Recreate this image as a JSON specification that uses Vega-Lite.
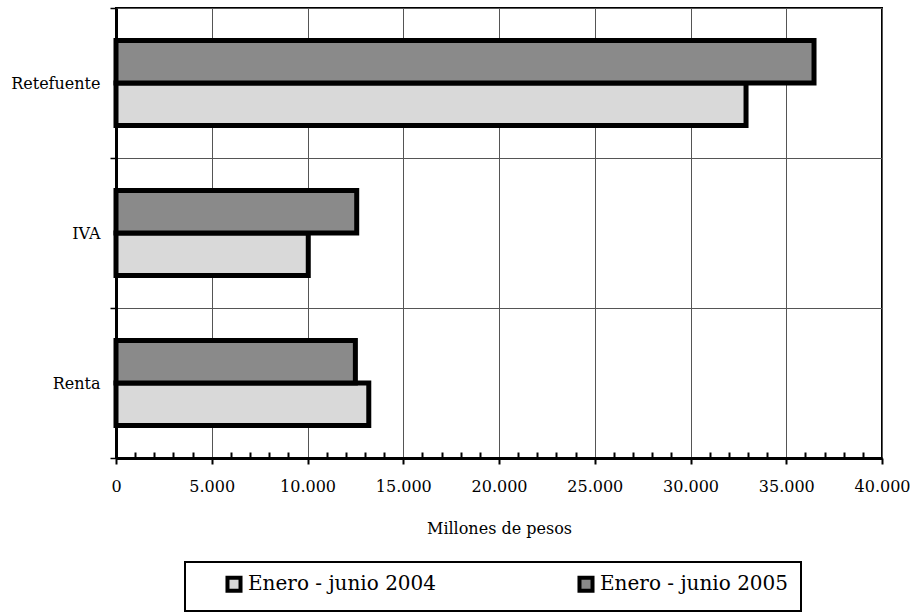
{
  "$schema": "https://vega.github.io/schema/vega-lite/v6.json",
  "width": 766,
  "height": 450,
  "padding": {"left": 10, "top": 0, "right": 0, "bottom": 0},
  "background": "white",
  "config": {
    "font": "DejaVu Serif",
    "view": {"stroke": "black", "strokeWidth": 2},
    "axis": {
      "labelFont": "DejaVu Serif",
      "titleFont": "DejaVu Serif",
      "labelColor": "black",
      "titleColor": "black",
      "domainColor": "black",
      "tickColor": "black"
    },
    "legend": {"labelFont": "DejaVu Serif"}
  },
  "data": {
    "values": [
      {"tributo": "Retefuente", "periodo": "Enero - junio 2004", "valor": 32900},
      {"tributo": "Retefuente", "periodo": "Enero - junio 2005", "valor": 36450},
      {"tributo": "IVA", "periodo": "Enero - junio 2004", "valor": 10040},
      {"tributo": "IVA", "periodo": "Enero - junio 2005", "valor": 12570},
      {"tributo": "Renta", "periodo": "Enero - junio 2004", "valor": 13200},
      {"tributo": "Renta", "periodo": "Enero - junio 2005", "valor": 12500}
    ]
  },
  "mark": {"type": "bar", "stroke": "black", "strokeWidth": 5, "strokeJoin": "miter"},
  "encoding": {
    "y": {
      "field": "tributo",
      "type": "nominal",
      "sort": ["Retefuente", "IVA", "Renta"],
      "scale": {"paddingInner": 0, "paddingOuter": 0},
      "axis": {
        "title": null,
        "tickBand": "extent",
        "grid": true,
        "gridColor": "#555555",
        "gridWidth": 1,
        "domainWidth": 3,
        "tickSize": 6,
        "tickWidth": 1.5,
        "labelFont": "DejaVu Serif",
        "labelFontSize": 16,
        "labelPadding": 10
      }
    },
    "yOffset": {
      "field": "periodo",
      "type": "nominal",
      "sort": ["Enero - junio 2005", "Enero - junio 2004"],
      "scale": {"paddingInner": 0, "paddingOuter": 0.76}
    },
    "x": {
      "field": "valor",
      "type": "quantitative",
      "scale": {"domain": [0, 40000], "nice": false},
      "axis": {
        "title": "Millones de pesos",
        "titleFont": "DejaVu Serif",
        "titleFontSize": 16,
        "titleFontWeight": "normal",
        "titlePadding": 26,
        "values": [0, 1000, 2000, 3000, 4000, 5000, 6000, 7000, 8000, 9000, 10000, 11000, 12000, 13000, 14000, 15000, 16000, 17000, 18000, 19000, 20000, 21000, 22000, 23000, 24000, 25000, 26000, 27000, 28000, 29000, 30000, 31000, 32000, 33000, 34000, 35000, 36000, 37000, 38000, 39000, 40000],
        "labelExpr": "datum.value % 5000 === 0 ? replace(format(datum.value, ','), ',', '.') : ''",
        "labelOverlap": false,
        "labelFlush": false,
        "labelFont": "DejaVu Serif",
        "labelFontSize": 16,
        "labelPadding": 14,
        "domainWidth": 3,
        "tickWidth": 2,
        "tickSize": {"condition": {"test": "datum.value % 5000 === 0", "value": 6}, "value": -6},
        "grid": true,
        "gridColor": "#555555",
        "gridWidth": 1,
        "gridOpacity": {"condition": {"test": "datum.value % 5000 === 0", "value": 1}, "value": 0}
      }
    },
    "color": {
      "field": "periodo",
      "type": "nominal",
      "scale": {
        "domain": ["Enero - junio 2004", "Enero - junio 2005"],
        "range": ["#d9d9d9", "#8a8a8a"]
      },
      "legend": {
        "title": null,
        "orient": "none",
        "legendX": 69,
        "legendY": 554,
        "direction": "horizontal",
        "columns": 2,
        "columnPadding": 112,
        "padding": 12,
        "symbolOffset": 27,
        "strokeColor": "black",
        "labelFont": "DejaVu Serif",
        "labelFontSize": 20,
        "labelColor": "black",
        "labelOffset": 4,
        "labelLimit": 400,
        "symbolType": "square",
        "symbolSize": 170,
        "symbolStrokeColor": "black",
        "symbolStrokeWidth": 4,
        "symbolOpacity": 1,
        "encode": {"legend": {"update": {"strokeWidth": {"value": 2}}}}
      }
    }
  }
}
